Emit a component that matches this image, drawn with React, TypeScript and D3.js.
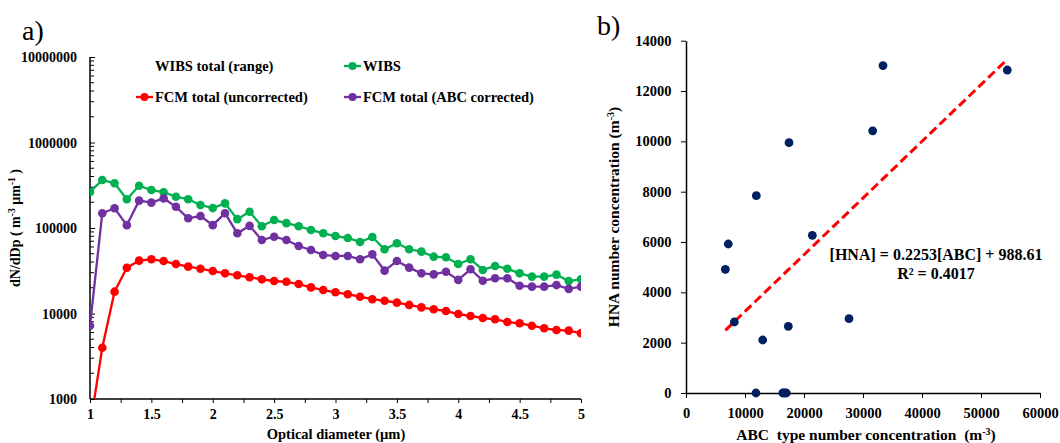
import React, { useEffect, useRef } from 'react';
import * as d3 from 'd3';

// panel a) size distributions, x = optical diameter (um), 0.1 steps from 1 to 5
const diameters = d3.range(41).map(i => +(1 + i * 0.1).toFixed(1));

const wibs = [264000, 364000, 334000, 217000, 312000, 278000, 262000, 232000, 217000, 186000,
    171000, 194000, 127000, 155000, 105000, 124000, 114000, 105000, 94800, 86700,
    80500, 76400, 68600, 78500, 56400, 66200, 56400, 52900, 46200, 45400,
    37900, 43100, 32300, 36000, 33400, 29500, 27000, 27000, 28500, 24000, 25100];

const fcmAbc = [7200, 149000, 170000, 108000, 209000, 198000, 222000, 177000, 130000, 138000,
    108000, 149000, 86700, 106000, 72400, 79000, 72400, 61500, 55300, 48300,
    47100, 47100, 43100, 49200, 31700, 41100, 34400, 29500, 28700, 30800,
    24700, 32900, 24200, 25800, 25800, 21100, 20600, 20600, 21500, 19400, 20600];

const fcmRaw = [470, 3980, 18000, 34300, 41500, 43100, 41100, 37900, 35300, 33400,
    31400, 29500, 28000, 26500, 25100, 24000, 23500, 22100, 20200, 18800,
    17700, 16800, 15700, 14700, 14100, 13400, 12600, 11800, 11200, 10700,
    9860, 9350, 8860, 8550, 7960, 7680, 7200, 6710, 6410, 6300, 5870];

const logTicks = [1000, 10000, 100000, 1000000, 10000000];

// panel b) scatter
const abcConc = [11920, 17460, 31640, 33390, 54460, 7170, 6670, 8190, 21410, 13000, 17340, 27630, 11860, 16400, 16700, 17000];
const hnaConc = [7840, 9947, 10420, 13010, 12835, 5921, 4915, 2821, 6267, 2106, 2650, 2953, 0, 0, 0, 0];
const slope = 0.2253;
const intercept = 988.61;

const FONT = '"Liberation Serif", "Times New Roman", serif';

export default function App() {
    const svgRef = useRef<SVGSVGElement>(null);

    useEffect(() => {
        const svg = d3.select(svgRef.current);
        svg.selectAll('*').remove();
        svg.attr('font-family', FONT).attr('font-weight', 'bold');

        // ---------- panel a ----------
        const x = d3.scaleLinear().domain([1, 5]).range([90, 581]);
        const y = d3.scaleLog().domain([1000, 10000000]).range([399, 57]);

        svg.append('text').attr('x', 22).attr('y', 40).attr('font-size', 28)
            .attr('font-weight', 'normal').text('a)');

        svg.append('clipPath').attr('id', 'clipA')
            .append('rect').attr('x', 90).attr('y', 57).attr('width', 491).attr('height', 342);

        // y axis, ticks pointing in
        const yAxis = svg.append('g').attr('transform', 'translate(90,0)')
            .call(d3.axisRight(y).tickValues(logTicks).tickFormat(() => '').tickSize(5));
        yAxis.select('.domain').attr('stroke-width', 1.5).attr('d', 'M0,57V399');
        const minor: number[] = [];
        logTicks.slice(0, -1).forEach(t => { for (let k = 2; k < 10; k++) minor.push(t * k); });
        yAxis.selectAll('.minor').data(minor).enter().append('line')
            .attr('x1', 0).attr('x2', 4).attr('y1', d => y(d)).attr('y2', d => y(d))
            .attr('stroke', 'black');
        svg.selectAll('.ylab').data(logTicks).enter().append('text')
            .attr('x', 77).attr('y', d => y(d) + 5).attr('text-anchor', 'end')
            .attr('font-size', 14).text(d => String(d));

        // x axis
        const xAxis = svg.append('g').attr('transform', 'translate(0,399)')
            .call(d3.axisBottom(x).tickValues(d3.range(1, 5.01, 0.25)).tickSize(4)
                .tickFormat(d => (+d * 2) % 1 === 0 ? String(+d) : ''));
        xAxis.select('.domain').attr('stroke-width', 1.5).attr('d', 'M90,0H581');
        xAxis.selectAll('text').attr('font-size', 14).attr('font-family', FONT)
            .attr('font-weight', 'bold').attr('fill', 'black').attr('dy', '0.95em');

        svg.append('text').attr('x', 336).attr('y', 439).attr('text-anchor', 'middle')
            .attr('font-size', 14.5).text('Optical diameter (µm)');

        const yt = svg.append('text').attr('transform', 'translate(20,228) rotate(-90)')
            .attr('text-anchor', 'middle').attr('font-size', 14);
        yt.append('tspan').text('dN/dDp ( m');
        yt.append('tspan').attr('dy', -5).attr('font-size', 9.5).text('-3');
        yt.append('tspan').attr('dy', 5).text(' µm');
        yt.append('tspan').attr('dy', -5).attr('font-size', 9.5).text('-1');
        yt.append('tspan').attr('dy', 5).text(' )');

        const line = d3.line<number>().x((_, i) => x(diameters[i])).y(d => y(d));
        const series = [
            { vals: wibs, color: '#00B050' },
            { vals: fcmAbc, color: '#7030A0' },
            { vals: fcmRaw, color: '#FF0000' },
        ];
        const plot = svg.append('g').attr('clip-path', 'url(#clipA)');
        series.forEach(s => {
            plot.append('path').attr('d', line(s.vals)).attr('fill', 'none')
                .attr('stroke', s.color).attr('stroke-width', 2.3);
            plot.selectAll(null).data(s.vals).enter().append('circle')
                .attr('cx', (_, i) => x(diameters[i])).attr('cy', d => y(d))
                .attr('r', 4.3).attr('fill', s.color);
        });

        // legend
        const legend = [
            { label: 'WIBS total (range)', color: null, lx: 155, ly: 66 },
            { label: 'WIBS', color: '#00B050', lx: 363, ly: 66 },
            { label: 'FCM total (uncorrected)', color: '#FF0000', lx: 155, ly: 97 },
            { label: 'FCM total (ABC corrected)', color: '#7030A0', lx: 363, ly: 97 },
        ];
        legend.forEach(l => {
            if (l.color) {
                svg.append('line').attr('x1', l.lx - 19).attr('x2', l.lx - 2)
                    .attr('y1', l.ly).attr('y2', l.ly).attr('stroke', l.color).attr('stroke-width', 2.3);
                svg.append('circle').attr('cx', l.lx - 10.5).attr('cy', l.ly).attr('r', 4)
                    .attr('fill', l.color);
            }
            svg.append('text').attr('x', l.lx).attr('y', l.ly + 5).attr('font-size', 14.5).text(l.label);
        });

        // ---------- panel b ----------
        const bx = d3.scaleLinear().domain([0, 60000]).range([686, 1040]);
        const by = d3.scaleLinear().domain([0, 14000]).range([393, 40.7]);

        svg.append('text').attr('x', 597).attr('y', 35).attr('font-size', 28)
            .attr('font-weight', 'normal').text('b)');

        const bxAxis = svg.append('g').attr('transform', 'translate(0,393)')
            .call(d3.axisBottom(bx).tickValues(d3.range(0, 60001, 10000)).tickSize(5).tickSizeOuter(0)
                .tickFormat(d3.format('d')));
        bxAxis.select('.domain').attr('stroke-width', 1.5);
        bxAxis.selectAll('text').attr('font-size', 14.5).attr('font-family', FONT)
            .attr('font-weight', 'bold').attr('fill', 'black').attr('dy', '1.15em');

        const byAxis = svg.append('g').attr('transform', 'translate(686,0)')
            .call(d3.axisLeft(by).tickValues(d3.range(0, 14001, 2000)).tickSize(5).tickSizeOuter(0)
                .tickFormat(d3.format('d')));
        byAxis.select('.domain').attr('stroke-width', 1.5);
        byAxis.selectAll('text').attr('font-size', 14.5).attr('font-family', FONT)
            .attr('font-weight', 'bold').attr('fill', 'black').attr('dx', '-0.45em');

        const bxt = svg.append('text').attr('x', 866).attr('y', 440).attr('text-anchor', 'middle')
            .attr('font-size', 15.5).attr('xml:space', 'preserve');
        bxt.append('tspan').text('ABC  type number concentration  (m');
        bxt.append('tspan').attr('dy', -5).attr('font-size', 10).text('-3');
        bxt.append('tspan').attr('dy', 5).text(')');

        const byt = svg.append('text').attr('transform', 'translate(619,217) rotate(-90)')
            .attr('text-anchor', 'middle').attr('font-size', 15.5);
        byt.append('tspan').text('HNA number concentration (m');
        byt.append('tspan').attr('dy', -5).attr('font-size', 10).text('-3');
        byt.append('tspan').attr('dy', 5).text(')');

        // trend line over the data range
        const xMin = d3.min(abcConc) as number;
        const xMax = d3.max(abcConc) as number;
        svg.append('line')
            .attr('x1', bx(xMin)).attr('y1', by(slope * xMin + intercept))
            .attr('x2', bx(xMax)).attr('y2', by(slope * xMax + intercept))
            .attr('stroke', '#FF0000').attr('stroke-width', 3).attr('stroke-dasharray', '9,4.5');

        svg.selectAll('.pt').data(abcConc).enter().append('circle')
            .attr('cx', d => bx(d)).attr('cy', (_, i) => by(hnaConc[i]))
            .attr('r', 4.4).attr('fill', '#002060');

        svg.append('text').attr('x', 936).attr('y', 260).attr('text-anchor', 'middle')
            .attr('font-size', 16).text('[HNA] = 0.2253[ABC] + 988.61');
        svg.append('text').attr('x', 936).attr('y', 279).attr('text-anchor', 'middle')
            .attr('font-size', 16).text('R² = 0.4017');
    }, []);

    return (
        <svg ref={svgRef} width={1060} height={443}
            style={{ position: 'absolute', left: 0, top: 0, background: 'white' }} />
    );
}
